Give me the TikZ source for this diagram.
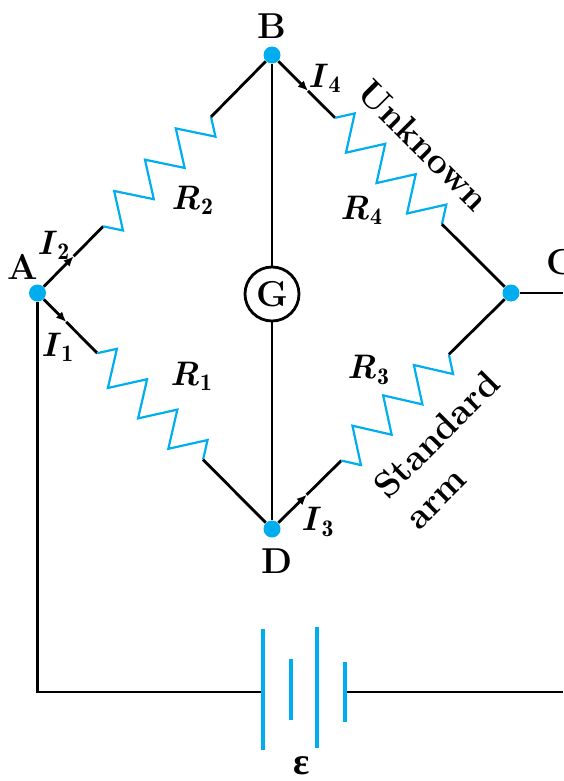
\documentclass[tikz,border=0pt]{standalone}
\usepackage{fontspec}
\usepackage{amsmath}
\newfontfamily\grkfont{Liberation Serif}
\usetikzlibrary{calc,arrows.meta}
\definecolor{wb}{RGB}{0,174,239}
\newcommand\zigres[3]{\draw[zig] (#1) \foreach \k/\s in {1/1,2/-1,3/1,4/-1,5/1,6/-1,7/1}{ -- ($(#1)!{(\k-0.5)/7}!(#2)!{\s*8.5pt}!#3:(#2)$)} -- (#2);}
\begin{document}
\begin{tikzpicture}[x=0.5pt,y=-0.5pt,
  wire/.style={line width=1.4pt,black},
  cur/.style={wire,-{Latex[length=5pt,width=4.4pt]}},
  zig/.style={line width=1.1pt,wb,line join=miter},
  plate/.style={line width=1.8pt,wb},
  dot/.style={circle,fill=wb,inner sep=0pt,minimum size=8.5pt},
  big/.style={font=\fontsize{18}{21}\selectfont\bfseries,inner sep=0pt},
  lbl/.style={font=\fontsize{17}{20}\selectfont\bfseries,inner sep=0pt},
  armlbl/.style={font=\fontsize{18}{22}\selectfont\bfseries,inner sep=0pt}]
\useasboundingbox (0,0) rectangle (563,781);
\clip (0,0) rectangle (563,781);
% junctions
\node[dot] (A) at (37.5,293) {};
\node[dot] (B) at (272,55) {};
\node[dot] (C) at (511,293) {};
\node[dot] (D) at (272,529) {};
\node[circle,draw,line width=1.4pt,minimum size=27pt,inner sep=0pt,fill=white,big] (G) at (272,294) {G};
% resistor ends
\coordinate (r2s) at ($(A)!0.28!(B)$);
\coordinate (r2e) at ($(A)!0.74!(B)$);
\coordinate (r1s) at ($(A)!0.255!(D)$);
\coordinate (r1e) at ($(A)!0.706!(D)$);
\coordinate (r4s) at ($(B)!0.264!(C)$);
\coordinate (r4e) at ($(B)!0.711!(C)$);
\coordinate (r3s) at ($(D)!0.29!(C)$);
\coordinate (r3e) at ($(D)!0.74!(C)$);
% current arrow tips
\coordinate (a2) at ($(A)!0.55!(r2s)$);
\coordinate (a1) at ($(A)!0.48!(r1s)$);
\coordinate (a4) at ($(B)!0.57!(r4s)$);
\coordinate (a3) at ($(D)!0.5!(r3s)$);
% arms
\draw[cur] (A) -- (a2);
\draw[wire] (a2) -- (r2s);
\zigres{r2s}{r2e}{-90}
\draw[wire] (r2e) -- (B);
\draw[cur] (A) -- (a1);
\draw[wire] (a1) -- (r1s);
\zigres{r1s}{r1e}{90}
\draw[wire] (r1e) -- (D);
\draw[cur] (B) -- (a4);
\draw[wire] (a4) -- (r4s);
\zigres{r4s}{r4e}{90}
\draw[wire] (r4e) -- (C);
\draw[cur] (D) -- (a3);
\draw[wire] (a3) -- (r3s);
\zigres{r3s}{r3e}{-90}
\draw[wire] (r3e) -- (C);
\draw[wire] (B) -- (G) -- (D);
\coordinate (Cr) at (563,293);
\draw[wire] (C) -- (Cr);
% battery
\coordinate (p1) at (263,692);
\coordinate (p4) at (345,692);
\coordinate (br) at (563,692);
\draw[wire] (A) |- (p1);
\draw[wire] (p4) -- (br);
\draw[plate] (263,629) -- (263,750);
\draw[plate] (291,659) -- (291,720);
\draw[plate] (317,627) -- (317,748);
\draw[plate] (345,662) -- (345,722);
% labels
\node[big] (lA) at (23,267) {A};
\node[big] (lB) at (272,26) {B};
\node[big] (lC) at (561,262) {C};
\node[big] (lD) at (277,561) {D};
\node[lbl] (lI2) at (54,245) {\textit{I}$_{\mathbf 2}$};
\node[lbl] (lI1) at (58,347) {\textit{I}$_{\mathbf 1}$};
\node[lbl] (lI4) at (325,78) {\textit{I}$_{\mathbf 4}$};
\node[lbl] (lI3) at (318,522) {\textit{I}$_{\mathbf 3}$};
\node[lbl] (lR2) at (193,200) {\textit{R}$_{\mathbf 2}$};
\node[lbl] (lR1) at (192,376) {\textit{R}$_{\mathbf 1}$};
\node[lbl] (lR4) at (362,210) {\textit{R}$_{\mathbf 4}$};
\node[lbl] (lR3) at (369,370) {\textit{R}$_{\mathbf 3}$};
\node[armlbl,rotate=-45] (unk) at (424,145) {Unknown};
\node[armlbl,rotate=45,align=left] (std) at (452,450) {Standard\\arm};
\node[font=\fontsize{19}{22}\selectfont\grkfont\bfseries,inner sep=0pt] (eps) at (302,766) {ε};
\end{tikzpicture}
\end{document}
